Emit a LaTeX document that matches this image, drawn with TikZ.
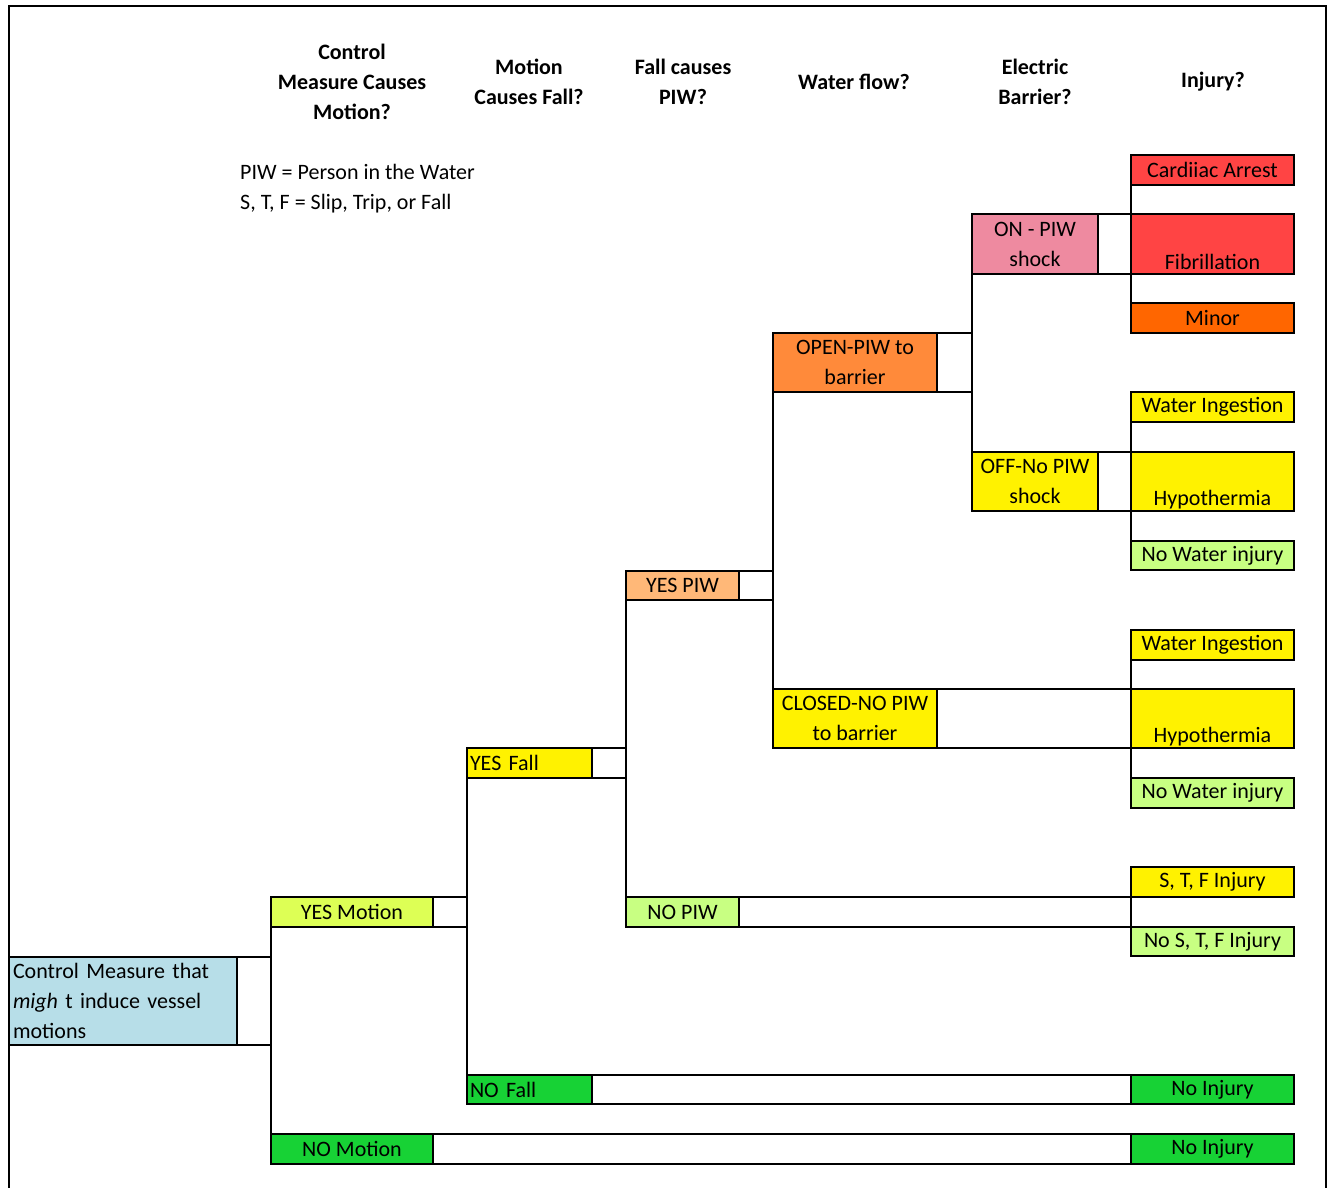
\documentclass[tikz,border=0pt]{standalone}
\usepackage{fontspec}
\setmainfont{Carlito}
\newcommand\celltxt{\fontsize{22}{30}\selectfont}

\definecolor{rootblue}{HTML}{B7DEE8}
\definecolor{motiongreen}{HTML}{DDFF55}
\definecolor{lightgreen}{HTML}{C8FF82}
\definecolor{nogreen}{HTML}{17D235}
\definecolor{piworange}{HTML}{FFB878}
\definecolor{openorange}{HTML}{FF8A3A}
\definecolor{shockpink}{HTML}{EE8AA0}
\definecolor{arrestred}{HTML}{FF4444}
\definecolor{minororange}{HTML}{FF6600}

\begin{document}
\begin{tikzpicture}[x=1pt,y=-1pt,
    every node/.style={font=\celltxt},
    cell/.style={draw, line width=2pt, outer sep=0pt, inner sep=0pt, anchor=north west, align=center},
    leaf/.style={cell, minimum width=163pt},
    rule/.style={line width=2pt},
    head/.style={font=\celltxt\bfseries, align=center}]
  \useasboundingbox (0,0) rectangle (1328,1188);
  \draw[line width=1.5pt] (9,1188) -- (9,6) -- (1326,6) -- (1326,1188);

  % column headings
  \foreach \n/\x/\t in {hmot/352/{Control\\Measure Causes\\Motion?},hfall/529/{Motion\\Causes Fall?},
      hpiw/683/{Fall causes\\PIW?},hflow/854/{Water flow?},hbar/1035/{Electric\\Barrier?},hinj/1213/{Injury?}}
    \node[head] (\n) at (\x,82) {\t};
  \node[anchor=west, align=left, inner xsep=0pt] (legend) at (240,189) {PIW = Person in the Water\\S, T, F = Slip, Trip, or Fall};

  % event boxes
  \node[cell, fill=rootblue, minimum width=228pt, minimum height=88pt, text width=220pt, align=left] (root) at (9,957)
    {Control Measure that\\{\itshape migh} t induce vessel\\motions};
  \node[cell, fill=motiongreen, minimum width=162pt, minimum height=30pt] (yesm) at (271,897) {YES Motion};
  \node[cell, fill=nogreen, minimum width=162pt, minimum height=30pt] (nom) at (271,1134) {NO Motion};
  \node[cell, fill=yellow, minimum width=125pt, minimum height=30pt, text width=119pt, align=left] (yesf) at (467,748) {YES Fall};
  \node[cell, fill=nogreen, minimum width=125pt, minimum height=29pt, text width=119pt, align=left] (nof) at (467,1075) {NO Fall};
  \node[cell, fill=piworange, minimum width=113pt, minimum height=29pt] (yesp) at (626,571) {YES PIW};
  \node[cell, fill=lightgreen, minimum width=113pt, minimum height=30pt] (nop) at (626,897) {NO PIW};
  \node[cell, fill=openorange, minimum width=164pt, minimum height=59pt] (open) at (773,333) {OPEN-PIW to\\barrier};
  \node[cell, fill=yellow, minimum width=164pt, minimum height=59pt] (closed) at (773,689) {CLOSED-NO PIW\\to barrier};
  \node[cell, fill=shockpink, minimum width=126pt, minimum height=60pt] (on) at (972,214) {ON - PIW\\shock};
  \node[cell, fill=yellow, minimum width=126pt, minimum height=59pt] (off) at (972,452) {OFF-No PIW\\shock};

  % injury outcomes
  \foreach \n/\y/\h/\c/\t in {card/155/30/arrestred/{Cardiiac Arrest},fib/214/60/arrestred/{\strut\\Fibrillation},
      minor/303/30/minororange/{Minor},wia/392/30/yellow/{Water Ingestion},hypa/452/59/yellow/{\strut\\Hypothermia},
      nwa/541/29/lightgreen/{No Water injury},wib/630/30/yellow/{Water Ingestion},hypb/689/59/yellow/{\strut\\Hypothermia},
      nwb/778/30/lightgreen/{No Water injury},stf/867/30/yellow/{S, T, F Injury},nostf/927/29/lightgreen/{No S, T, F Injury},
      noia/1075/29/nogreen/{No Injury},noib/1134/30/nogreen/{No Injury}}
    \node[leaf, fill=\c, minimum height=\h pt] (\n) at (1131,\y) {\t};

  % branch lines
  \foreach \p/\c in {root/yesm,yesm/yesf,yesf/yesp,yesp/open,open/on,on/card,off/wia,closed/wib,nop/stf,nof/noia,nom/noib}
    \draw[rule] (\p.north east) -- (\p.north east -| \c.west) (\p.south east) -- (\p.south east -| \c.west);
  \foreach \a/\b in {yesm/nom,yesf/nof,yesp/nop,open/closed,on/off,card/minor,wia/nwa,wib/nwb,stf/nostf}
    \draw[rule] (\a.north west) -- (\b.south west);
\end{tikzpicture}
\end{document}
